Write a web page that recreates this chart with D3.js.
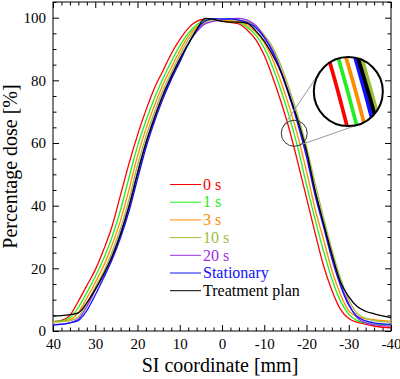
<!DOCTYPE html>
<html>
<head>
<meta charset="utf-8">
<script src="https://cdn.jsdelivr.net/npm/d3@7"></script>
<style>
    body { margin: 0; background: #fff; }
    #chart { width: 400px; height: 379px; }
    text { font-family: "Liberation Serif", "Times New Roman", serif; }
</style>
</head>
<body>
<div id="chart"></div>
<script>

// SI coordinate of every sample [mm]
let positions = [40, 38, 36, 34, 32, 30, 28, 26, 24, 22,
                 20, 18, 16, 14, 12, 10, 8, 6, 4, 2,
                 0, -2, -4, -6, -8, -10, -12, -14, -16, -18,
                 -20, -22, -24, -26, -28, -30, -32, -34, -36, -38,
                 -40];

// percentage dose per series
let dose0s = [3.0, 3.4, 5.0, 9.5, 14.5, 19.5, 26.0, 33.5, 43.5, 53.5,
              62.5, 70.5, 77.5, 83.0, 88.5, 93.0, 96.6, 98.8, 99.5, 99.5,
              99.0, 98.5, 98.0, 96.0, 93.0, 88.0, 81.0, 73.0, 64.0, 53.5,
              42.5, 31.5, 21.0, 13.0, 7.0, 4.0, 2.8, 2.2, 1.6, 1.2,
              1.0];
let dose1s = [3.0, 3.2, 4.2, 7.5, 12.3, 17.3, 23.1, 30.1, 38.7, 49.0,
              59.0, 67.1, 74.3, 80.5, 86.0, 91.0, 95.0, 97.7, 99.2, 99.5,
              99.3, 98.8, 98.5, 96.9, 94.4, 90.3, 84.2, 76.6, 68.1, 58.2,
              46.6, 35.8, 25.7, 16.6, 9.7, 5.4, 3.3, 2.6, 2.2, 2.0,
              1.9];
let dose3s = [3.0, 3.1, 3.6, 5.9, 10.5, 15.5, 20.8, 27.5, 35.4, 45.2,
              55.8, 64.5, 71.9, 78.6, 84.1, 89.4, 94.0, 97.0, 98.7, 99.3,
              99.3, 99.0, 98.8, 97.6, 95.4, 92.0, 86.6, 79.4, 71.2, 61.9,
              51.0, 39.1, 29.4, 19.4, 11.8, 6.4, 4.6, 3.9, 3.6, 3.3,
              3.1];
let dose10s = [2.8, 3.0, 3.3, 4.5, 8.8, 14.0, 19.0, 25.4, 32.8, 42.1,
               52.9, 62.1, 69.8, 76.8, 82.5, 88.0, 93.0, 96.5, 98.4, 99.3,
               99.5, 99.4, 99.2, 98.8, 97.3, 94.5, 90.5, 84.5, 77.0, 68.5,
               58.8, 47.3, 36.3, 26.0, 17.0, 10.0, 5.6, 4.0, 3.3, 3.0,
               2.8];
let dose20s = [2.0, 2.2, 2.6, 3.8, 7.8, 13.0, 18.0, 24.1, 31.3, 40.2,
               50.7, 60.3, 68.3, 75.4, 81.4, 86.9, 91.7, 95.5, 98.0, 98.8,
               99.3, 99.6, 99.8, 99.2, 97.5, 93.9, 89.5, 83.1, 75.4, 66.7,
               56.7, 44.8, 34.4, 24.2, 15.4, 8.8, 4.2, 2.6, 2.0, 1.7,
               1.5];
let doseStationary = [1.9, 2.1, 2.6, 3.4, 6.5, 11.5, 17.0, 22.8, 29.8, 38.3,
                      48.5, 58.5, 66.8, 74.0, 80.3, 85.8, 91.5, 96.0, 99.0, 99.6,
                      99.6, 99.6, 99.2, 98.4, 96.8, 93.6, 89.0, 82.4, 74.6, 65.8,
                      55.6, 43.5, 33.4, 23.1, 14.6, 8.2, 4.6, 3.2, 2.6, 2.3,
                      2.1];
let dosePlan = [4.8, 4.9, 5.2, 5.8, 9.0, 13.3, 18.2, 23.7, 30.9, 39.7,
                50.2, 59.9, 67.9, 75.1, 81.1, 86.6, 91.5, 96.2, 99.8, 99.5,
                98.8, 98.6, 98.6, 98.2, 95.8, 92.5, 88.0, 82.5, 75.0, 67.0,
                57.5, 45.0, 34.5, 24.5, 15.8, 11.0, 7.8, 6.3, 5.5, 4.8,
                4.3];

let seriesNames = ["0 s", "1 s", "3 s", "10 s", "20 s", "Stationary", "Treatment plan"];
let seriesColors = ["#ff0000", "#22ee22", "#ff8c00", "#9cbf3b", "#9a30e8", "#1010ff", "#000000"];

let xTicks = [40, 30, 20, 10, 0, -10, -20, -30, -40];
let yTicks = [0, 20, 40, 60, 80, 100];

// magnifier: small lens on the falling edge, enlarged view up right
let lensCenter = [-17.1, 63.1];
let zoomCenter = [-29.9, 76.4];


class ProfileVis {

    constructor(parentElement) {
        this.parentElement = parentElement;
        this.displayData = [];
        this.initVis();
    }

    initVis() {
        let vis = this;

        vis.margin = {top: 2, right: 9, bottom: 48, left: 53};
        vis.width = 400 - vis.margin.left - vis.margin.right;
        vis.height = 379 - vis.margin.top - vis.margin.bottom;

        vis.svg = d3.select("#" + vis.parentElement).append("svg")
            .attr("width", 400)
            .attr("height", 379)
            .append("g")
            .attr("transform", `translate(${vis.margin.left}, ${vis.margin.top})`);

        vis.x = d3.scaleLinear().domain([40, -40]).range([0, vis.width]);
        vis.y = d3.scaleLinear().domain([0, 105]).range([vis.height, 0]);

        vis.line = d3.line()
            .x(d => vis.x(d.pos))
            .y(d => vis.y(d.dose))
            .curve(d3.curveMonotoneX);

        vis.wrangleData();
    }

    wrangleData() {
        let vis = this;
        let all = [dose0s, dose1s, dose3s, dose10s, dose20s, doseStationary, dosePlan];

        vis.displayData = all.map((vals, i) => ({
            name: seriesNames[i],
            color: seriesColors[i],
            values: positions.map((p, j) => ({pos: p, dose: vals[j]}))
        }));

        vis.updateVis();
    }

    drawAxes() {
        let vis = this;
        let minorX = d3.range(40, -41, -2).filter(d => d % 10 !== 0);
        let minorY = d3.range(0, 106, 5).filter(d => d % 20 !== 0);
        let fmt = d => String(d);

        let axes = [
            {gen: d3.axisBottom, scale: vis.x, major: xTicks, minor: minorX, t: `translate(0,${vis.height})`, labels: true},
            {gen: d3.axisTop, scale: vis.x, major: xTicks, minor: minorX, t: "translate(0,0)", labels: false},
            {gen: d3.axisLeft, scale: vis.y, major: yTicks, minor: minorY, t: "translate(0,0)", labels: true},
            {gen: d3.axisRight, scale: vis.y, major: yTicks, minor: minorY, t: `translate(${vis.width},0)`, labels: false}
        ];

        axes.forEach(a => {
            let g = vis.svg.append("g")
                .attr("class", "axis")
                .attr("transform", a.t)
                .call(a.gen(a.scale).tickValues(a.major).tickSize(-6).tickPadding(7)
                    .tickFormat(a.labels ? fmt : ""))
                .attr("font-size", 15)
                .attr("font-family", "Liberation Serif, serif");
            g.select(".domain").remove();
            g.selectAll("text").attr("fill", "#000");

            let m = vis.svg.append("g")
                .attr("transform", a.t)
                .call(a.gen(a.scale).tickValues(a.minor).tickSize(-3.5).tickFormat(""));
            m.select(".domain").remove();
        });

        vis.svg.append("rect")
            .attr("x", 0)
            .attr("y", 0)
            .attr("width", vis.width)
            .attr("height", vis.height)
            .attr("fill", "none")
            .attr("stroke", "#000")
            .attr("stroke-width", 1);

        // axis titles
        vis.svg.append("text")
            .attr("x", vis.width / 2 - 2)
            .attr("y", vis.height + 41)
            .attr("text-anchor", "middle")
            .attr("font-size", 20)
            .text("SI coordinate [mm]");

        vis.svg.append("text")
            .attr("transform", `translate(${17 - vis.margin.left}, ${vis.height / 2}) rotate(-90)`)
            .attr("text-anchor", "middle")
            .attr("font-size", 20)
            .text("Percentage dose [%]");
    }

    updateVis() {
        let vis = this;

        vis.drawAxes();

        vis.svg.selectAll(".profile")
            .data(vis.displayData)
            .enter().append("path")
            .attr("class", "profile")
            .attr("d", d => vis.line(d.values))
            .attr("fill", "none")
            .attr("stroke", d => d.color)
            .attr("stroke-width", 1.3);

        // legend
        let legend = vis.svg.append("g")
            .attr("transform", `translate(${170 - vis.margin.left}, ${184.5 - vis.margin.top})`);

        let rows = legend.selectAll(".legend-row")
            .data(vis.displayData)
            .enter().append("g")
            .attr("class", "legend-row")
            .attr("transform", (d, i) => `translate(0, ${i * 17.7})`);

        rows.append("line")
            .attr("x1", 0).attr("x2", 31)
            .attr("y1", 0).attr("y2", 0)
            .attr("stroke", d => d.color)
            .attr("stroke-width", 1);

        rows.append("text")
            .attr("x", 33)
            .attr("dy", "0.33em")
            .attr("font-size", 16)
            .attr("fill", d => d.color)
            .text(d => d.name);

        vis.drawMagnifier();
    }

    drawMagnifier() {
        let vis = this;
        let c1 = [vis.x(lensCenter[0]), vis.y(lensCenter[1])];
        let c2 = [vis.x(zoomCenter[0]), vis.y(zoomCenter[1])];
        let r1 = 13, r2 = 34.5;
        let k = r2 / r1;

        // outer tangents between the two circles
        let dx = c2[0] - c1[0], dy = c2[1] - c1[1];
        let dist = Math.sqrt(dx * dx + dy * dy);
        let base = Math.atan2(dy, dx);
        let alpha = Math.acos((r1 - r2) / dist);
        [base + alpha, base - alpha].forEach(a => {
            vis.svg.append("line")
                .attr("x1", c1[0] + r1 * Math.cos(a))
                .attr("y1", c1[1] + r1 * Math.sin(a))
                .attr("x2", c2[0] + r2 * Math.cos(a))
                .attr("y2", c2[1] + r2 * Math.sin(a))
                .attr("stroke", "#999")
                .attr("stroke-width", 1);
        });

        vis.svg.append("circle")
            .attr("cx", c1[0]).attr("cy", c1[1]).attr("r", r1)
            .attr("fill", "none")
            .attr("stroke", "#333")
            .attr("stroke-width", 1);

        vis.svg.append("clipPath")
            .attr("id", "zoom-clip")
            .append("circle")
            .attr("cx", c2[0]).attr("cy", c2[1]).attr("r", r2);

        let zoomG = vis.svg.append("g").attr("clip-path", "url(#zoom-clip)");

        zoomG.append("circle")
            .attr("cx", c2[0]).attr("cy", c2[1]).attr("r", r2)
            .attr("fill", "#fff");

        zoomG.append("g")
            .attr("transform", `translate(${c2[0]},${c2[1]}) scale(${k}) translate(${-c1[0]},${-c1[1]})`)
            .selectAll("path")
            .data(vis.displayData)
            .enter().append("path")
            .attr("d", d => vis.line(d.values))
            .attr("fill", "none")
            .attr("stroke", d => d.color)
            .attr("stroke-width", 1.4);

        vis.svg.append("circle")
            .attr("cx", c2[0]).attr("cy", c2[1]).attr("r", r2)
            .attr("fill", "none")
            .attr("stroke", "#000")
            .attr("stroke-width", 2);
    }
}

let profileVis = new ProfileVis("chart");

</script>
</body>
</html>
